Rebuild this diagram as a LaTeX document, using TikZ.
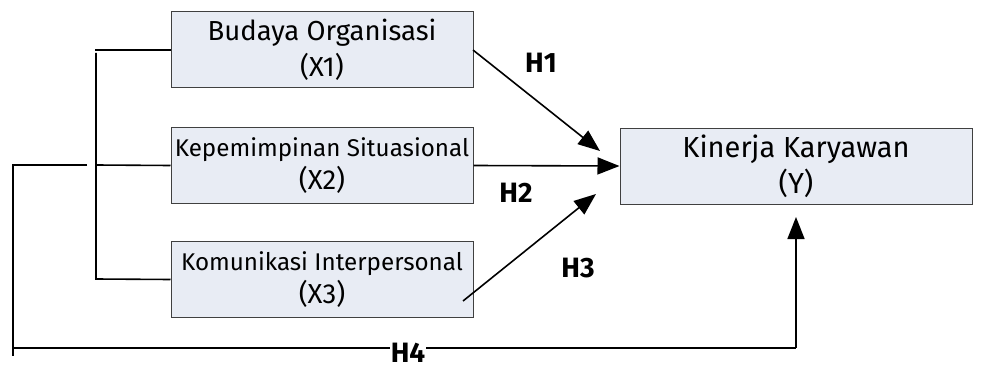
\documentclass[tikz,border=0pt]{standalone}
\usepackage{fontspec}
\setmainfont{Fira Sans}
\usetikzlibrary{arrows.meta}
\definecolor{boxfill}{HTML}{E8ECF4}
\definecolor{boxline}{HTML}{404040}
\tikzset{
  varbox/.style={draw=boxline, line width=1pt, fill=boxfill, rectangle, align=center, inner sep=0pt, minimum width=302pt, minimum height=76pt},
  conn/.style={line width=1.6pt, black},
  arr/.style={conn, -{Triangle[length=22pt,width=17pt]}},
  hlabel/.style={font=\fontsize{28}{30}\selectfont\bfseries, inner sep=1pt}
}
\newcommand{\bigtxt}{\fontsize{27.5}{36}\selectfont}
\newcommand{\ytxt}{\fontsize{29}{36}\selectfont}
\newcommand{\midtxt}{\fontsize{24.2}{33}\selectfont}
\begin{document}
\begin{tikzpicture}[x=1pt,y=-1pt]
\useasboundingbox (0,0) rectangle (986,369);
\node[varbox, font=\bigtxt] (x1) at (322,50) {Budaya Organisasi\\ (X1)};
\node[varbox, font=\midtxt] (x2) at (322,165.5) {Kepemimpinan Situasional\\ {\bigtxt (X2)}};
\node[varbox, font=\midtxt] (x3) at (322,279.5) {Komunikasi Interpersonal\\ {\bigtxt (X3)}};
\node[varbox, font=\ytxt, minimum width=352pt] (y) at (796,166) {Kinerja Karyawan\\ (Y)};
% bracket
\coordinate (b1) at (95,50);
\coordinate (b2) at (96,53);
\coordinate (b3) at (96,279);
\coordinate (b4) at (96,165);
\coordinate (s1) at (87,165);
\coordinate (s2) at (13,165);
\coordinate (s3) at (13,356);
\coordinate (s4) at (13,348);
\coordinate (h4c) at (796,348);
\coordinate (h4t) at (796,217);
\draw[conn] (x1.west) -- (b1);
\draw[conn] (b2) -- (b3) -- (x3.west);
\draw[conn] (b4) -- (x2.west);
\draw[conn] (s1) -- (s2) -- (s3);
\draw[conn] (s4) -- (h4c);
\draw[arr] (h4c) -- (h4t);
\node[hlabel, fill=white, inner sep=0.5pt] (h4) at (408,353) {H4};
% arrows to Y
\coordinate (a1s) at (473,50);
\coordinate (a1t) at (600,151);
\coordinate (a3s) at (463,301);
\coordinate (a3t) at (596,194);
\draw[arr] (a1s) -- (a1t);
\draw[arr] (x2.east) -- (y.west);
\draw[arr] (a3s) -- (a3t);
\node[hlabel] (h1) at (541,63) {H1};
\node[hlabel] (h2) at (516,193) {H2};
\node[hlabel] (h3) at (578,268) {H3};
\end{tikzpicture}
\end{document}
